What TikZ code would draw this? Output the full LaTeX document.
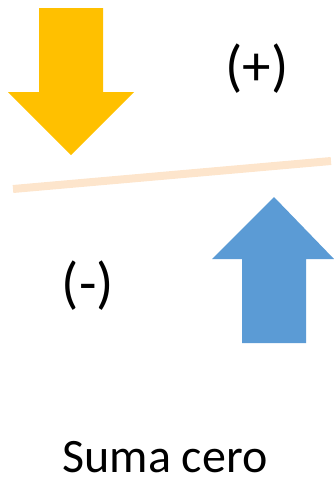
\documentclass[tikz,border=0pt]{standalone}
\usepackage{fontspec}
\setmainfont{Carlito}
\usetikzlibrary{positioning}
\definecolor{downgold}{HTML}{FFC000}
\definecolor{upblue}{HTML}{5B9BD5}
\definecolor{beampeach}{HTML}{FDE5CC}

\tikzset{
    bigtext/.style={font=\fontsize{48}{56}\selectfont, text=black, inner sep=0pt},
    signtext/.style={font=\fontsize{57}{64}\selectfont, text=black, inner sep=0pt},
}

\begin{document}
\begin{tikzpicture}[x=1pt, y=-1pt]
\useasboundingbox (0,0) rectangle (334,479);

% ---- Beam ----
\draw[beampeach, line width=8pt] (13,189) -- (331,161);

% ---- Down arrow (gold) ----
\fill[downgold] (39,8) -- (103,8) -- (103,92) -- (134,92) -- (71,155)
    -- (8,92) -- (39,92) -- cycle;

% ---- Up arrow (blue) ----
\fill[upblue] (242,343) -- (306,343) -- (306,259) -- (334,259) -- (274,197)
    -- (212,259) -- (242,259) -- cycle;

% ---- Labels ----
\node[signtext] (plus) at (257,69) {(+)};
\node[signtext] (minus) at (88,286) {(-)};
\node[bigtext, anchor=base] (caption) at (165,472) {Suma cero};

\end{tikzpicture}
\end{document}
